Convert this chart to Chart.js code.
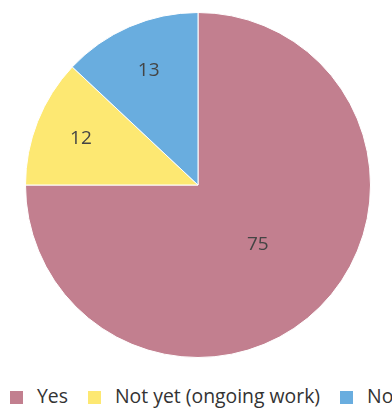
<!DOCTYPE html>
<html>
<head>
<meta charset="utf-8">
<script src="https://cdn.jsdelivr.net/npm/chart.js@4/dist/chart.umd.min.js"></script>
<style>
  body { margin: 0; width: 392px; height: 410px; overflow: hidden; background: #fff; font-family: "Open Sans", sans-serif; }
  #wrap { position: relative; width: 392px; height: 370px; }
  #legend { position: absolute; top: 382px; left: 10px; white-space: nowrap; font-size: 19.4px; color: #333; }
  #legend span.item { display: inline-block; margin-right: 20px; }
  #legend span.box { display: inline-block; width: 13px; height: 13px; margin-right: 14px; vertical-align: -1px; }
</style>
</head>
<body>
<div id="wrap"><canvas id="pie"></canvas></div>
<div id="legend"></div>
<script>
const labels = ['Yes', 'Not yet (ongoing work)', 'No'];
const values = [75, 12, 13];
const colors = ['#c27f8f', '#fde872', '#69addf'];

// where the numbers sit, as a fraction of the radius
const labelRadius = [0.49, 0.73, 0.72];

const sliceLabels = {
  id: 'sliceLabels',
  afterDatasetsDraw(chart) {
    const ctx = chart.ctx;
    const meta = chart.getDatasetMeta(0);
    ctx.save();
    ctx.font = '19px "Open Sans"';
    ctx.fillStyle = '#444';
    ctx.textAlign = 'center';
    ctx.textBaseline = 'middle';
    meta.data.forEach((arc, i) => {
      const p = arc.getProps(['x', 'y', 'startAngle', 'endAngle', 'outerRadius'], true);
      const mid = (p.startAngle + p.endAngle) / 2;
      const r = p.outerRadius * labelRadius[i];
      ctx.fillText(values[i], p.x + Math.cos(mid) * r, p.y + Math.sin(mid) * r);
    });
    ctx.restore();
  }
};

new Chart(document.getElementById('pie'), {
  type: 'pie',
  data: {
    labels: labels,
    datasets: [{
      data: values,
      backgroundColor: colors,
      borderColor: '#fff',
      borderWidth: 1
    }]
  },
  options: {
    responsive: true,
    maintainAspectRatio: false,
    animation: false,
    layout: { padding: { top: 12, bottom: 12, left: 25, right: 21 } },
    plugins: {
      legend: { display: false },
      tooltip: { enabled: false }
    }
  },
  plugins: [sliceLabels]
});

// legend under the pie
const legend = document.getElementById('legend');
labels.forEach((name, i) => {
  const item = document.createElement('span');
  item.className = 'item';
  item.innerHTML = `<span class="box" style="background:${colors[i]}"></span>${name}`;
  legend.appendChild(item);
});
</script>
</body>
</html>
